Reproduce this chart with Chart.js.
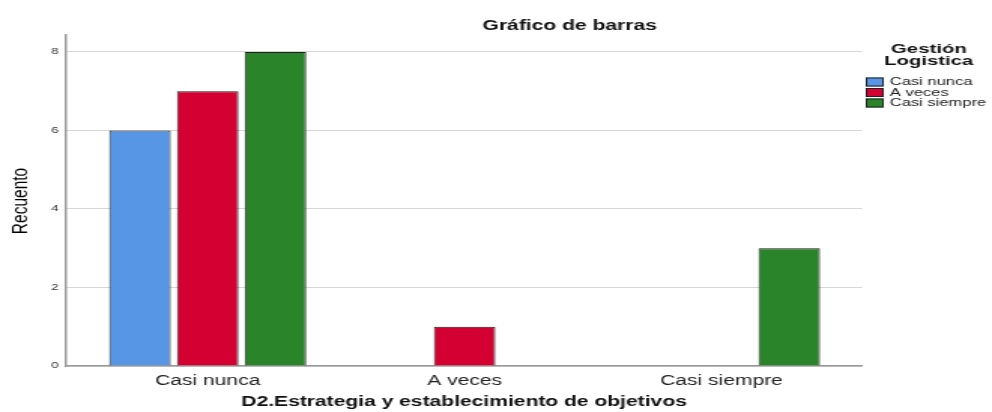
<!DOCTYPE html>
<html lang="es">
<head>
<meta charset="utf-8">
<title>Gráfico de barras</title>
<script src="https://cdn.jsdelivr.net/npm/chart.js@4/dist/chart.umd.min.js"></script>
<style>
    html, body { margin: 0; padding: 0; background: #fff; overflow: hidden; }
    /* la imagen original de SPSS viene estirada en horizontal */
    #contenedor { width: 660px; height: 412px; transform: scaleX(1.503); transform-origin: 0 0; }
</style>
</head>
<body>
<div id="contenedor">
    <canvas id="grafico" width="660" height="412"></canvas>
</div>
<script>
// Datos
const categorias = ['Casi nunca', 'A veces', 'Casi siempre'];
const serieNombres = ['Casi nunca', 'A veces', 'Casi siempre'];
const serieCasiNunca = [6, null, null];
const serieAVeces = [7, 1, null];
const serieCasiSiempre = [8, null, 3];
const coloresSeries = ['#5796e5', '#d50032', '#2a852a'];

const tituloGrafico = 'Gráfico de barras';
const tituloEjeX = 'D2.Estrategia y establecimiento de objetivos';
const tituloEjeY = 'Recuento';
const tituloLeyenda = ['Gestión', 'Logistica'];

const fuente = '"Liberation Sans", Arial, sans-serif';

// SPSS deja un margen a los lados de las categorías
const margenCategorias = {
    id: 'margenCategorias',
    afterLayout(chart) {
        const x = chart.scales.x;
        x._startPixel = x.left + 8.7;
        x._endPixel = x.right - 8;
        x._length = x._endPixel - x._startPixel;
    }
};

// Títulos y leyenda dibujados a mano
const textosSpss = {
    id: 'textosSpss',
    afterDraw(chart) {
        const ctx = chart.ctx;
        const area = chart.chartArea;
        ctx.save();
        ctx.fillStyle = '#111';

        ctx.font = 'bold 14px ' + fuente;
        ctx.textAlign = 'center';
        ctx.textBaseline = 'alphabetic';
        ctx.fillText(tituloGrafico, 379, 30);
        ctx.fillText(tituloEjeX, (area.left + area.right) / 2, 406);

        ctx.save();
        ctx.translate(13.3, 201);
        ctx.rotate(-Math.PI / 2);
        ctx.font = '15.5px ' + fuente;
        ctx.fillStyle = '#000';
        ctx.textBaseline = 'middle';
        ctx.fillText(tituloEjeY, 0, 0);
        ctx.restore();

        // leyenda
        ctx.font = 'bold 13.5px ' + fuente;
        ctx.textAlign = 'center';
        ctx.fillText(tituloLeyenda[0], 618, 53);
        ctx.fillText(tituloLeyenda[1], 618, 65);

        ctx.font = '11px ' + fuente;
        ctx.textAlign = 'left';
        ctx.textBaseline = 'middle';
        chart.data.datasets.forEach((ds, i) => {
            const cy = 82 + i * 10.5;
            ctx.fillStyle = ds.backgroundColor;
            ctx.fillRect(576, cy - 4.5, 12, 9);
            ctx.strokeStyle = '#222';
            ctx.lineWidth = 1;
            ctx.strokeRect(576.5, cy - 4, 11, 8);
            ctx.fillStyle = '#222';
            ctx.fillText(ds.label, 592, cy);
        });
        ctx.restore();
    }
};

const series = [serieCasiNunca, serieAVeces, serieCasiSiempre];

new Chart(document.getElementById('grafico'), {
    type: 'bar',
    data: {
        labels: categorias,
        datasets: series.map((valores, i) => ({
            label: serieNombres[i],
            data: valores,
            backgroundColor: coloresSeries[i],
            borderColor: '#1e1e1e',
            borderWidth: 1,
            categoryPercentage: 0.791,
            barPercentage: 0.908
        }))
    },
    options: {
        responsive: false,
        animation: false,
        devicePixelRatio: 1,
        layout: {
            padding: { top: 35, right: 86.5, bottom: 0, left: 0 }
        },
        plugins: {
            legend: { display: false },
            tooltip: { enabled: false }
        },
        scales: {
            x: {
                grid: { display: false },
                border: { color: '#9a9a9a', width: 1.5 },
                ticks: {
                    color: '#222',
                    padding: -1,
                    font: { family: fuente, size: 14 }
                },
                afterFit: (scale) => { scale.height = 46; }
            },
            y: {
                min: 0,
                max: 8.43,
                grid: { color: '#d6d6d6', drawTicks: false },
                border: { color: '#9a9a9a', width: 1.5 },
                ticks: {
                    stepSize: 2,
                    includeBounds: false,
                    color: '#333',
                    padding: 5,
                    font: { family: fuente, size: 9 }
                },
                afterFit: (scale) => { scale.width = 44; }
            }
        }
    },
    plugins: [margenCategorias, textosSpss]
});
</script>
</body>
</html>
